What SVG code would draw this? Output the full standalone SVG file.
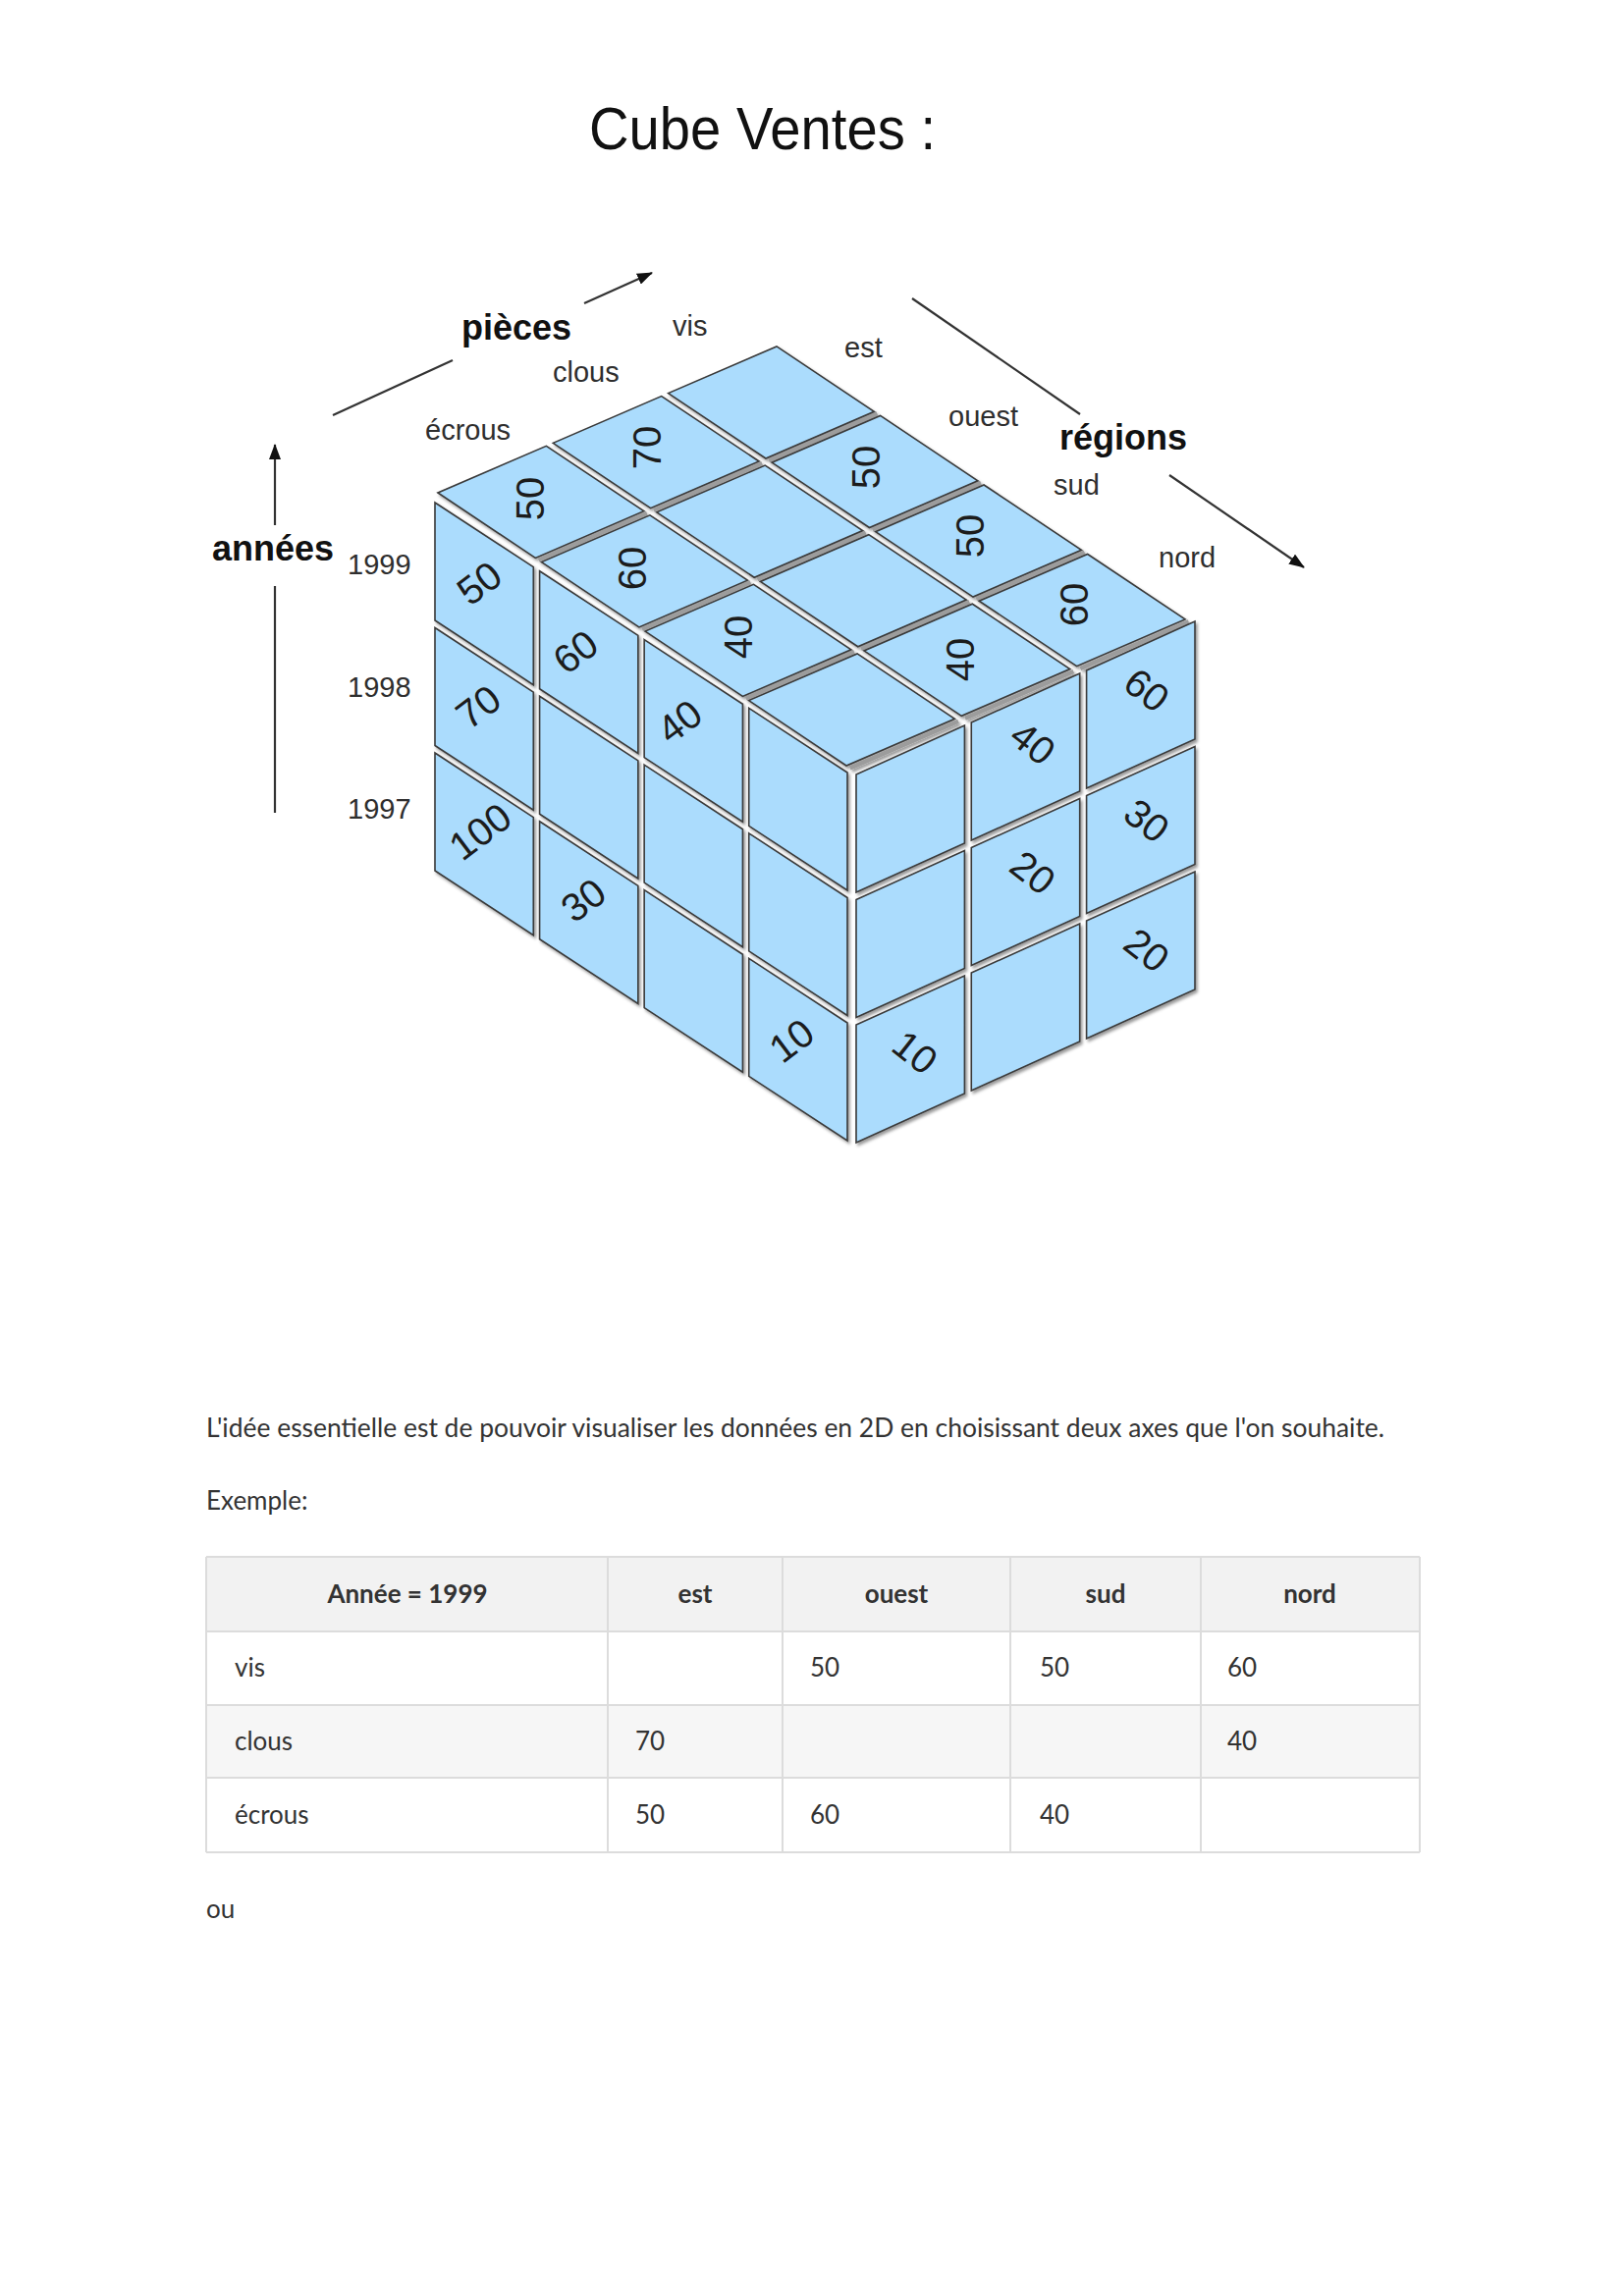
<svg xmlns="http://www.w3.org/2000/svg" width="1653" height="2339" viewBox="0 0 1653 2339">
<defs>
<style>
.cell{fill:#abdcfd;stroke:#3a3a3a;stroke-width:1.6px;vector-effect:non-scaling-stroke}
.band{stroke:#9c9c9c;stroke-width:4.5px;vector-effect:non-scaling-stroke;fill:none}
.num{font-family:"Liberation Sans",Arial,sans-serif;font-size:40px;fill:#1c1c1c;text-anchor:middle;dominant-baseline:central}
.lab{font-family:"Liberation Sans",Arial,sans-serif;font-size:29px;fill:#2e2e2e}
.axl{font-family:"Liberation Sans",Arial,sans-serif;font-size:36px;font-weight:bold;fill:#111}
.ax{stroke:#333;stroke-width:2.2px;fill:none}
.body{font-family:Lato,"Noto Sans",sans-serif;font-size:26px;fill:#333}
.th{font-weight:bold;text-anchor:middle}
.grid{stroke:#dcdcdc;stroke-width:2px;fill:none}
</style>
<filter id="sh" x="-5%" y="-5%" width="115%" height="115%"><feDropShadow dx="2" dy="2.5" stdDeviation="1.6" flood-color="#000" flood-opacity="0.4"/></filter>
<marker id="ah" viewBox="0 0 16 12" refX="15" refY="6" markerWidth="16" markerHeight="12" markerUnits="userSpaceOnUse" orient="auto"><path d="M0,0 L16,6 L0,12 z" fill="#111"/></marker>
</defs>
<rect width="1653" height="2339" fill="#fff"/>

<text id="title" x="600" y="152" font-family="Liberation Sans, Arial, sans-serif" font-size="61" fill="#111" textLength="353" lengthAdjust="spacingAndGlyphs">Cube Ventes :</text>

<g id="connectors">
<line class="ax" x1="339" y1="423" x2="461" y2="367"/>
<line class="ax" x1="595" y1="309" x2="664" y2="278" marker-end="url(#ah)"/>
<line class="ax" x1="280" y1="828" x2="280" y2="597"/>
<line class="ax" x1="280" y1="535" x2="280" y2="453" marker-end="url(#ah)"/>
<line class="ax" x1="929" y1="304" x2="1100" y2="422"/>
<line class="ax" x1="1191" y1="484" x2="1328" y2="578" marker-end="url(#ah)"/>
</g>

<g id="axis-labels">
<text class="axl" x="470" y="346">pièces</text>
<text class="axl" x="216" y="571">années</text>
<text class="axl" x="1079" y="458">régions</text>
<text class="lab" x="433" y="448">écrous</text>
<text class="lab" x="563" y="389">clous</text>
<text class="lab" x="685" y="342">vis</text>
<text class="lab" x="860" y="364">est</text>
<text class="lab" x="966" y="434">ouest</text>
<text class="lab" x="1073" y="504">sud</text>
<text class="lab" x="1180" y="578">nord</text>
<text class="lab" x="354" y="585">1999</text>
<text class="lab" x="354" y="710">1998</text>
<text class="lab" x="354" y="834">1997</text>
</g>

<g id="top-face" filter="url(#sh)">
<g transform="matrix(104 69.5 115 -49.7 446 502)">
<line class="band" x1="0.985" y1="0" x2="0.985" y2="0.96"/><line class="band" x1="0.985" y1="1.02" x2="0.985" y2="1.98"/><line class="band" x1="0.985" y1="2.04" x2="0.985" y2="3"/>
<line class="band" x1="2" y1="0" x2="2" y2="0.96"/><line class="band" x1="2" y1="1.02" x2="2" y2="1.98"/><line class="band" x1="2" y1="2.04" x2="2" y2="3"/>
<line class="band" x1="3.015" y1="0" x2="3.015" y2="0.96"/><line class="band" x1="3.015" y1="1.02" x2="3.015" y2="1.98"/><line class="band" x1="3.015" y1="2.04" x2="3.015" y2="3"/>
<line class="band" x1="4.035" y1="0" x2="4.035" y2="0.96"/><line class="band" x1="4.035" y1="1.02" x2="4.035" y2="1.98"/><line class="band" x1="4.035" y1="2.04" x2="4.035" y2="3"/>
<rect class="cell" x="0" y="0" width="0.955" height="0.96"/><rect class="cell" x="1.015" y="0" width="0.955" height="0.96"/><rect class="cell" x="2.03" y="0" width="0.955" height="0.96"/><rect class="cell" x="3.045" y="0" width="0.955" height="0.96"/>
<rect class="cell" x="0" y="1.02" width="0.955" height="0.96"/><rect class="cell" x="1.015" y="1.02" width="0.955" height="0.96"/><rect class="cell" x="2.03" y="1.02" width="0.955" height="0.96"/><rect class="cell" x="3.045" y="1.02" width="0.955" height="0.96"/>
<rect class="cell" x="0" y="2.04" width="0.955" height="0.96"/><rect class="cell" x="1.015" y="2.04" width="0.955" height="0.96"/><rect class="cell" x="2.03" y="2.04" width="0.955" height="0.96"/><rect class="cell" x="3.045" y="2.04" width="0.955" height="0.96"/>
</g>
</g>

<g id="left-face" filter="url(#sh)">
<g transform="matrix(105 68.75 0 125 443 512)">
<rect class="cell" x="0" y="0" width="0.955" height="0.96"/><rect class="cell" x="1.015" y="0" width="0.955" height="0.96"/><rect class="cell" x="2.03" y="0" width="0.955" height="0.96"/><rect class="cell" x="3.045" y="0" width="0.955" height="0.96"/>
<rect class="cell" x="0" y="1.02" width="0.955" height="0.96"/><rect class="cell" x="1.015" y="1.02" width="0.955" height="0.96"/><rect class="cell" x="2.03" y="1.02" width="0.955" height="0.96"/><rect class="cell" x="3.045" y="1.02" width="0.955" height="0.96"/>
<rect class="cell" x="0" y="2.04" width="0.955" height="0.96"/><rect class="cell" x="1.015" y="2.04" width="0.955" height="0.96"/><rect class="cell" x="2.03" y="2.04" width="0.955" height="0.96"/><rect class="cell" x="3.045" y="2.04" width="0.955" height="0.96"/>
</g>
</g>

<g id="right-face" filter="url(#sh)">
<g transform="matrix(115 -52 0 125 872 789)">
<rect class="cell" x="0" y="0" width="0.96" height="0.96"/><rect class="cell" x="1.02" y="0" width="0.96" height="0.96"/><rect class="cell" x="2.04" y="0" width="0.96" height="0.96"/>
<rect class="cell" x="0" y="1.02" width="0.96" height="0.96"/><rect class="cell" x="1.02" y="1.02" width="0.96" height="0.96"/><rect class="cell" x="2.04" y="1.02" width="0.96" height="0.96"/>
<rect class="cell" x="0" y="2.04" width="0.96" height="0.96"/><rect class="cell" x="1.02" y="2.04" width="0.96" height="0.96"/><rect class="cell" x="2.04" y="2.04" width="0.96" height="0.96"/>
</g>
</g>

<g id="values">
<text class="num" transform="translate(540 508) rotate(-90)">50</text>
<text class="num" transform="translate(644 579) rotate(-90)">60</text>
<text class="num" transform="translate(752 649) rotate(-90)">40</text>
<text class="num" transform="translate(659 456) rotate(-90)">70</text>
<text class="num" transform="translate(978 672) rotate(-90)">40</text>
<text class="num" transform="translate(882 476) rotate(-90)">50</text>
<text class="num" transform="translate(988 546) rotate(-90)">50</text>
<text class="num" transform="translate(1094 616) rotate(-90)">60</text>
<text class="num" transform="translate(488 594) rotate(-37)">50</text>
<text class="num" transform="translate(487 720) rotate(-37)">70</text>
<text class="num" transform="translate(489 847) rotate(-37)">100</text>
<text class="num" transform="translate(586 664) rotate(-37)">60</text>
<text class="num" transform="translate(594 917) rotate(-37)">30</text>
<text class="num" transform="translate(692 735) rotate(-37)">40</text>
<text class="num" transform="translate(806 1060) rotate(-37)">10</text>
<text class="num" transform="translate(932 1072) rotate(38)">10</text>
<text class="num" transform="translate(1052 757) rotate(38)">40</text>
<text class="num" transform="translate(1052 889) rotate(38)">20</text>
<text class="num" transform="translate(1168 703) rotate(38)">60</text>
<text class="num" transform="translate(1168 836) rotate(38)">30</text>
<text class="num" transform="translate(1168 968) rotate(38)">20</text>
</g>

<g id="paragraph">
<text class="body" x="210" y="1464" textLength="1200" lengthAdjust="spacingAndGlyphs">L'idée essentielle est de pouvoir visualiser les données en 2D en choisissant deux axes que l'on souhaite.</text>
<text class="body" x="210" y="1538">Exemple:</text>
<text class="body" x="210" y="1954">ou</text>
</g>

<g id="table">
<rect x="210" y="1586" width="1236" height="76" fill="#f2f2f2"/>
<rect x="210" y="1737" width="1236" height="74" fill="#f6f6f6"/>
<g class="grid">
<line x1="210" y1="1586" x2="1446" y2="1586"/>
<line x1="210" y1="1662" x2="1446" y2="1662"/>
<line x1="210" y1="1737" x2="1446" y2="1737"/>
<line x1="210" y1="1811" x2="1446" y2="1811"/>
<line x1="210" y1="1887" x2="1446" y2="1887"/>
<line x1="210" y1="1586" x2="210" y2="1887"/>
<line x1="619" y1="1586" x2="619" y2="1887"/>
<line x1="797" y1="1586" x2="797" y2="1887"/>
<line x1="1029" y1="1586" x2="1029" y2="1887"/>
<line x1="1223" y1="1586" x2="1223" y2="1887"/>
<line x1="1446" y1="1586" x2="1446" y2="1887"/>
</g>
<text class="body th" x="415" y="1633">Année = 1999</text>
<text class="body th" x="708" y="1633">est</text>
<text class="body th" x="913" y="1633">ouest</text>
<text class="body th" x="1126" y="1633">sud</text>
<text class="body th" x="1334" y="1633">nord</text>
<text class="body" x="239" y="1708">vis</text>
<text class="body" x="825" y="1708">50</text>
<text class="body" x="1059" y="1708">50</text>
<text class="body" x="1250" y="1708">60</text>
<text class="body" x="239" y="1783">clous</text>
<text class="body" x="647" y="1783">70</text>
<text class="body" x="1250" y="1783">40</text>
<text class="body" x="239" y="1858">écrous</text>
<text class="body" x="647" y="1858">50</text>
<text class="body" x="825" y="1858">60</text>
<text class="body" x="1059" y="1858">40</text>
</g>
</svg>
